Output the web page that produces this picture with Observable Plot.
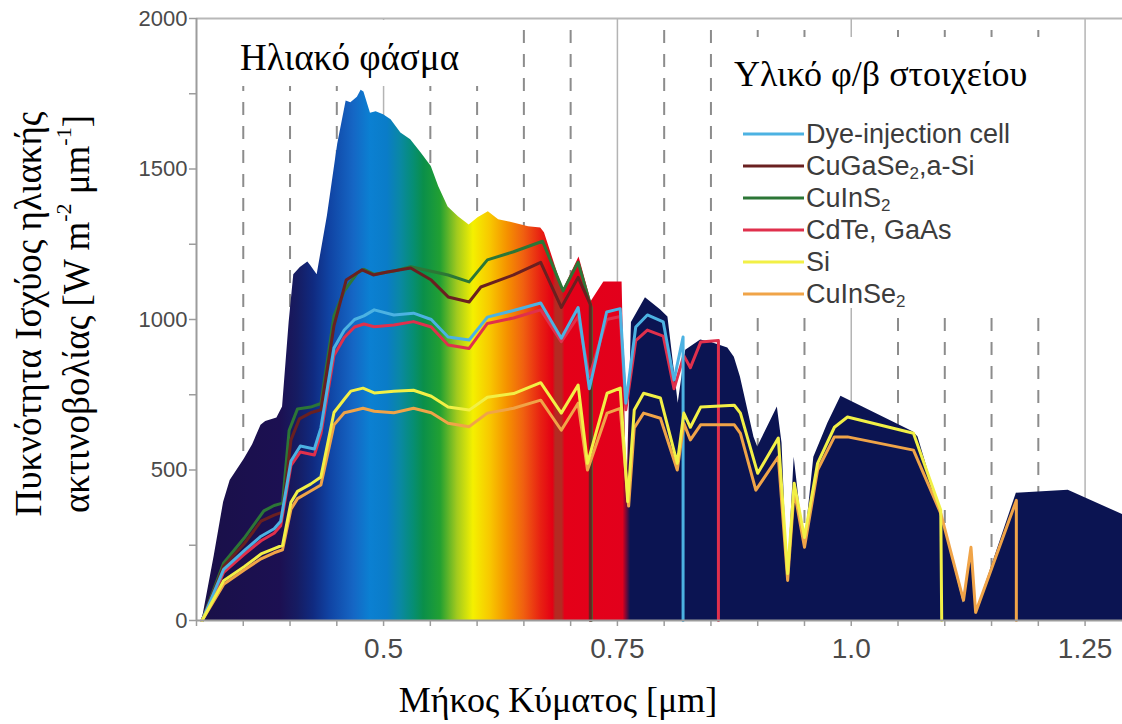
<!DOCTYPE html>
<html>
<head>
<meta charset="utf-8">
<script src="https://cdn.jsdelivr.net/npm/d3@7"></script>
<script src="https://cdn.jsdelivr.net/npm/@observablehq/plot@0.6"></script>
<style>
  html, body { margin: 0; padding: 0; background: #fff; }
  #chart { width: 1122px; height: 724px; }
</style>
</head>
<body>
<div id="chart"></div>
<script>
// Solar spectral irradiance (wavelength µm, W m^-2 µm^-1)
const spectrum = [
  [0.306,0],[0.319,215],[0.329,393],[0.336,465],[0.351,536],[0.360,584],[0.369,649],[0.374,661],
  [0.386,673],[0.392,709],[0.399,988],[0.404,1149],[0.411,1173],[0.419,1191],[0.422,1179],[0.429,1149],
  [0.440,1345],[0.451,1583],[0.460,1726],[0.465,1720],[0.472,1738],[0.476,1762],[0.479,1756],[0.486,1685],
  [0.492,1690],[0.500,1680],[0.508,1664],[0.5185,1620],[0.529,1597],[0.540,1554],[0.551,1508],[0.559,1441],
  [0.569,1374],[0.580,1341],[0.5915,1314],[0.601,1338],[0.612,1358],[0.623,1331],[0.639,1321],[0.655,1308],
  [0.668,1304],[0.672,1288],[0.692,1098],[0.709,1208],[0.722,1060],[0.7355,1125],[0.755,1125],[0.760,400],
  [0.765,990],[0.780,1072],[0.796,1032],[0.804,1008],[0.815,722],[0.823,898],[0.839,932],[0.849,925],
  [0.868,905],[0.875,875],[0.8815,809],[0.896,609],[0.900,576],[0.921,709],[0.926,589],[0.932,133],
  [0.939,542],[0.950,243],[0.960,542],[0.975,655],[0.989,745],[1.0665,626],[1.0714,610],[1.0957,356],
  [1.120,57],[1.128,243],[1.133,23],[1.1765,423],[1.232,433],[1.29,352]
];

// Power available to each cell material (wavelength µm, W m^-2 µm^-1)
const dyeCell = [
  [0.306,0],[0.329,170],[0.351,232],[0.369,280],[0.383,305],[0.390,330],[0.401,530],[0.411,580],
  [0.426,570],[0.433,640],[0.447,905],[0.458,965],[0.469,1000],[0.479,1012],[0.490,1032],[0.511,1015],
  [0.532,1021],[0.551,1000],[0.569,942],[0.5915,932],[0.611,1008],[0.639,1030],[0.668,1055],[0.690,938],
  [0.708,1040],[0.720,770],[0.7385,1025],[0.753,1036],[0.759,722],[0.7696,975],[0.782,1015],[0.799,992],
  [0.8105,799],[0.8202,942],[0.8202,0]
];
const cuGaSe2 = [
  [0.306,0],[0.329,180],[0.351,255],[0.369,330],[0.383,350],[0.392,360],[0.401,600],[0.410,670],
  [0.422,690],[0.433,700],[0.447,980],[0.460,1131],[0.477,1165],[0.489,1148],[0.504,1158],[0.529,1171],
  [0.551,1131],[0.569,1075],[0.5915,1058],[0.604,1108],[0.639,1148],[0.668,1190],[0.690,1040],[0.708,1140],
  [0.721,1050],[0.721,0]
];
const cuInS2 = [
  [0.306,0],[0.329,191],[0.351,274],[0.372,364],[0.383,382],[0.392,390],[0.399,631],[0.408,703],
  [0.422,709],[0.433,721],[0.447,1012],[0.458,1095],[0.472,1155],[0.479,1167],[0.490,1150],[0.510,1160],
  [0.529,1175],[0.551,1160],[0.569,1148],[0.5915,1125],[0.611,1198],[0.639,1225],[0.670,1260],[0.692,1095],
  [0.708,1190],[0.722,1040],[0.722,0]
];
const cdTe = [
  [0.306,0],[0.329,160],[0.351,220],[0.369,265],[0.383,290],[0.390,315],[0.401,515],[0.411,560],
  [0.426,550],[0.433,620],[0.447,880],[0.458,940],[0.469,975],[0.479,985],[0.490,976],[0.511,982],
  [0.532,993],[0.551,975],[0.569,915],[0.5915,904],[0.611,987],[0.639,1005],[0.668,1032],[0.690,926],
  [0.708,1010],[0.720,810],[0.7385,1000],[0.753,1010],[0.759,700],[0.7696,930],[0.782,965],[0.799,945],
  [0.8105,770],[0.821,880],[0.828,840],[0.839,925],[0.858,930],[0.858,0]
];
const silicon = [
  [0.306,0],[0.329,132],[0.351,179],[0.369,221],[0.383,239],[0.392,250],[0.401,393],[0.408,429],
  [0.422,453],[0.433,477],[0.447,691],[0.458,735],[0.465,762],[0.478,772],[0.490,756],[0.511,762],
  [0.532,765],[0.551,745],[0.569,709],[0.5915,699],[0.611,742],[0.639,754],[0.668,790],[0.690,689],
  [0.708,782],[0.718,522],[0.739,755],[0.753,772],[0.761,395],[0.768,699],[0.778,755],[0.796,739],
  [0.814,522],[0.821,689],[0.828,642],[0.839,709],[0.875,715],[0.8815,689],[0.900,489],[0.922,606],
  [0.932,156],[0.939,456],[0.950,276],[0.964,522],[0.982,642],[0.996,676],[1.0665,622],[1.0957,366],
  [1.0967,0]
];
const cuInSe2 = [
  [0.306,0],[0.329,120],[0.351,168],[0.369,205],[0.383,225],[0.392,235],[0.401,370],[0.408,405],
  [0.422,430],[0.433,450],[0.447,650],[0.458,690],[0.465,695],[0.478,705],[0.490,695],[0.511,690],
  [0.532,705],[0.551,690],[0.569,655],[0.5915,644],[0.611,689],[0.639,705],[0.668,732],[0.690,632],
  [0.708,722],[0.718,500],[0.739,689],[0.753,705],[0.762,380],[0.768,640],[0.778,689],[0.796,672],
  [0.814,500],[0.821,655],[0.828,600],[0.839,650],[0.875,650],[0.8815,622],[0.898,433],[0.922,544],
  [0.932,133],[0.939,433],[0.950,243],[0.964,500],[0.982,610],[0.996,610],[1.0665,566],[1.0957,356],
  [1.120,67],[1.128,243],[1.133,27],[1.1765,399],[1.1765,0]
];

// Series names, in legend order
const seriesNames = ["Dye-injection cell", "CuGaSe2,a-Si", "CuInS2", "CdTe, GaAs", "Si", "CuInSe2"];
const seriesData = [dyeCell, cuGaSe2, cuInS2, cdTe, silicon, cuInSe2];

// Axis ticks
const xMajorTicks = [0.5, 0.75, 1.0, 1.25];
const xTickLabels = ["0.5", "0.75", "1.0", "1.25"];
const xMinorTicks = [0.30,0.35,0.40,0.45,0.50,0.55,0.60,0.65,0.70,0.75,0.80,0.85,0.90,0.95,1.00,1.05,1.10,1.15,1.20,1.25];
const xDashedGrid = [0.35,0.40,0.45,0.55,0.60,0.65,0.70,0.80,0.85,0.90,0.95,1.05,1.10,1.15,1.20];
const yMajorTicks = [0, 500, 1000, 1500, 2000];
const yMinorTicks = [0, 250, 500, 750, 1000, 1250, 1500, 1750, 2000];

// ---- styling ----
const seriesColors = ["#4cb2e2", "#6a2020", "#2c7636", "#e0304c", "#f2f046", "#f0a448"];
const drawOrder = [2, 1, 3, 0, 5, 4];  // yellow Si ends on top
const spectrumStops = [
  [0.300, "#191048"], [0.390, "#1c1052"], [0.408, "#161c62"], [0.425, "#102a80"],
  [0.443, "#1044a4"], [0.468, "#1566c4"], [0.486, "#0b80d2"], [0.504, "#0a7cc8"],
  [0.518, "#0a88a4"], [0.532, "#068e74"], [0.543, "#0a8f4a"], [0.561, "#22a032"],
  [0.579, "#a2ca1e"], [0.596, "#f4f000"], [0.614, "#f8c800"], [0.633, "#f59000"],
  [0.650, "#f06010"], [0.668, "#e82212"], [0.681, "#e40014"], [0.684, "#b42a22"],
  [0.691, "#b42a22"], [0.694, "#e40018"], [0.756, "#e2001c"], [0.764, "#0b1452"],
  [1.290, "#0b1452"]
];
const serif = "'Liberation Serif', 'Times New Roman', serif";
const sans = "'Liberation Sans', Arial, Helvetica, sans-serif";

const spectrumRows = spectrum.map(([wavelength, irradiance]) => ({wavelength, irradiance}));
const lineRows = drawOrder.flatMap(i =>
  seriesData[i].map(([wavelength, irradiance]) => ({series: seriesNames[i], wavelength, irradiance}))
);

const chart = Plot.plot({
  width: 1122,
  height: 724,
  marginLeft: 196,
  marginRight: 0,
  marginTop: 18,
  marginBottom: 104,
  style: {background: "#fff", fontFamily: sans, overflow: "visible"},
  x: {domain: [0.3, 1.29], label: null},
  y: {domain: [0, 2000], label: null},
  color: {domain: seriesNames, range: seriesColors},
  marks: [
    // grid: dashed at minor steps, solid at labelled wavelengths
    Plot.ruleX(xDashedGrid, {y1: 1960, y2: 0, stroke: "#8c8c8c", strokeWidth: 2, strokeDasharray: "13,11"}),
    Plot.ruleX(xMajorTicks, {y1: 2000, y2: 0, stroke: "#b4b4b4", strokeWidth: 1.5}),
    Plot.ruleY([2000], {stroke: "#b8b8b8", strokeWidth: 2}),
    // solar spectrum
    Plot.areaY(spectrumRows, {x: "wavelength", y: "irradiance", fill: "url(#spectrumFill)"}),
    // cell materials
    Plot.line(lineRows, {x: "wavelength", y: "irradiance", z: "series", stroke: "series", strokeWidth: 3, strokeLinejoin: "round"}),
    // axes
    Plot.ruleY([0], {stroke: "#9c9c9c", strokeWidth: 2}),
    Plot.ruleX([0.3], {y1: 0, y2: 2000, stroke: "#9c9c9c", strokeWidth: 2}),
    Plot.axisX({ticks: xMinorTicks, tickSize: 6, tickFormat: () => "", stroke: "#9c9c9c", strokeWidth: 1.5}),
    Plot.axisX({ticks: xMajorTicks, tickSize: 0, tickPadding: 18, tickFormat: d => xTickLabels[xMajorTicks.indexOf(d)],
      fontSize: 28, fill: "#4a4a4a", fontFamily: sans}),
    Plot.axisY({ticks: yMinorTicks, tickSize: 7, tickFormat: () => "", stroke: "#9c9c9c", strokeWidth: 1.5}),
    Plot.axisY({ticks: yMajorTicks, tickSize: 0, tickPadding: 9, tickFormat: d => String(d),
      fontSize: 22, fill: "#4a4a4a", fontFamily: sans})
  ]
});

document.getElementById("chart").append(chart);

// rainbow fill for the spectrum, laid out along the wavelength scale
const xScale = chart.scale("x");
const svg = d3.select(chart);
const x0 = xScale.apply(spectrumStops[0][0]);
const x1 = xScale.apply(spectrumStops[spectrumStops.length - 1][0]);
const grad = svg.insert("defs", ":first-child")
  .append("linearGradient")
  .attr("id", "spectrumFill")
  .attr("gradientUnits", "userSpaceOnUse")
  .attr("x1", x0).attr("x2", x1).attr("y1", 0).attr("y2", 0);
for (const [w, c] of spectrumStops) {
  grad.append("stop").attr("offset", (xScale.apply(w) - x0) / (x1 - x0)).attr("stop-color", c);
}

// annotation panels
svg.append("rect").attr("x", 203).attr("y", 20).attr("width", 302).attr("height", 66).attr("fill", "#fff");
svg.append("rect").attr("x", 718).attr("y", 37).attr("width", 342).attr("height", 271).attr("fill", "#fff");

svg.append("text").attr("x", 240).attr("y", 70).attr("text-anchor", "start")
  .attr("font-family", serif).attr("font-size", 37).attr("fill", "#000")
  .text("Ηλιακό φάσμα");

svg.append("text").attr("x", 734).attr("y", 86).attr("text-anchor", "start")
  .attr("font-family", serif).attr("font-size", 36).attr("fill", "#000")
  .text("Υλικό φ/β στοιχείου");

// legend
const legend = svg.append("g").attr("text-anchor", "start");
const rowY = [134, 166, 198, 230, 262, 294];
seriesNames.forEach((name, i) => {
  const y = rowY[i];
  legend.append("line").attr("x1", 743).attr("x2", 804).attr("y1", y).attr("y2", y)
    .attr("stroke", seriesColors[i]).attr("stroke-width", 3);
  const t = legend.append("text").attr("x", 806).attr("y", y + 9)
    .attr("font-family", sans).attr("font-size", 27).attr("fill", "#3c3c3c");
  const m = name.match(/^(.*?)(2)(.*)$/);
  if (name.startsWith("Cu") && m) {
    t.append("tspan").text(m[1]);
    t.append("tspan").attr("font-size", 17).attr("dy", 4).text(m[2]);
    t.append("tspan").attr("dy", -4).text(m[3]);
  } else {
    t.text(name);
  }
});

// axis titles
svg.append("text").attr("x", 558).attr("y", 712).attr("text-anchor", "middle")
  .attr("font-family", serif).attr("font-size", 36).attr("fill", "#000")
  .text("Μήκος Κύματος [μm]");

svg.append("text").attr("transform", "translate(28,314) rotate(-90)")
  .attr("text-anchor", "middle").attr("dominant-baseline", "central")
  .attr("font-family", serif).attr("font-size", 37).attr("fill", "#000")
  .text("Πυκνότητα Ισχύος ηλιακής");
const yTitle2 = svg.append("text").attr("transform", "translate(76,314) rotate(-90)")
  .attr("text-anchor", "middle").attr("dominant-baseline", "central")
  .attr("font-family", serif).attr("font-size", 37).attr("fill", "#000");
yTitle2.append("tspan").text("ακτινοβολίας [W m");
yTitle2.append("tspan").attr("font-size", 22).attr("dy", -13).text("-2");
yTitle2.append("tspan").attr("dy", 13).text(" μm");
yTitle2.append("tspan").attr("font-size", 22).attr("dy", -13).text("-1");
yTitle2.append("tspan").attr("dy", 13).text("]");
</script>
</body>
</html>
